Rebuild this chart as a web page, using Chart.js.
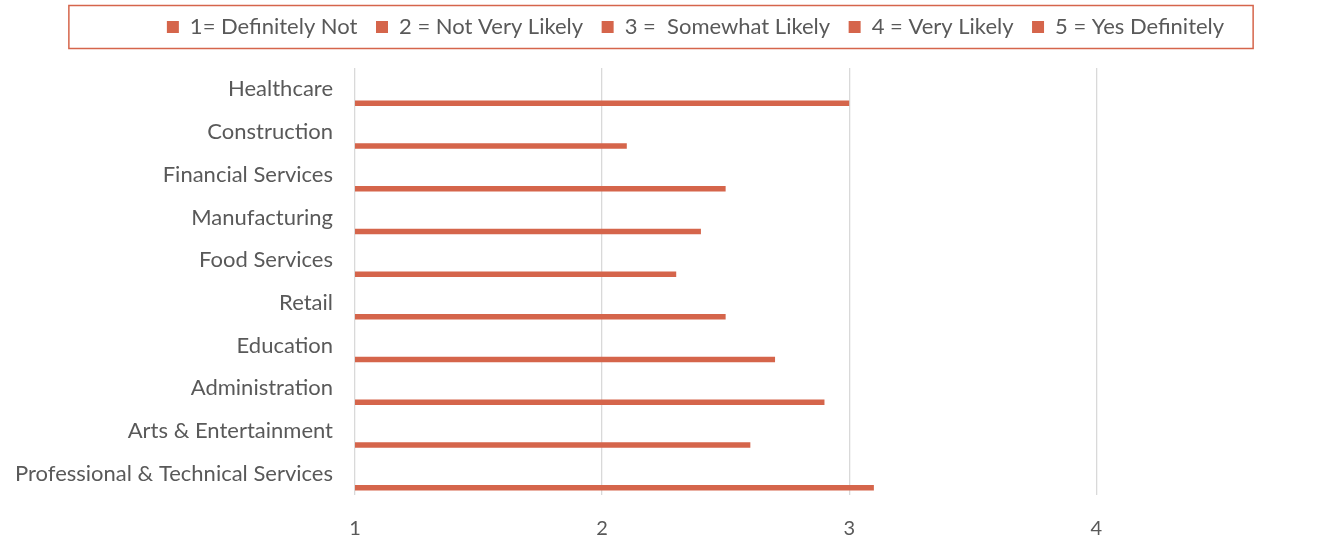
<!DOCTYPE html>
<html>
<head>
<meta charset="utf-8">
<script src="https://cdn.jsdelivr.net/npm/chart.js@4/dist/chart.umd.min.js"></script>
<style>
  html, body { margin: 0; padding: 0; background: #fff; }
  #wrap { width: 1335px; height: 537px; }
</style>
</head>
<body>
<div id="wrap"><canvas id="industry-chart"></canvas></div>
<script>
var industries = [
    'Healthcare',
    'Construction',
    'Financial Services',
    'Manufacturing',
    'Food Services',
    'Retail',
    'Education',
    'Administration',
    'Arts & Entertainment',
    'Professional & Technical Services'
];

var ratingLabels = [
    '1= Definitely Not',
    '2 = Not Very Likely',
    '3 =  Somewhat Likely',
    '4 = Very Likely',
    '5 = Yes Definitely'
];

// average likelihood per industry
var avgRating = [3.0, 2.1, 2.5, 2.4, 2.3, 2.5, 2.7, 2.9, 2.6, 3.1];

var xTicks = [1, 2, 3, 4];

var barColor = '#d5654b';
var textColor = '#595959';
var fontFamily = "Lato, 'Liberation Sans', sans-serif";

var datasets = ratingLabels.map(function (label, i) {
    return {
        label: label,
        data: i === ratingLabels.length - 1 ? avgRating : [],
        backgroundColor: barColor,
        borderWidth: 0,
        categoryPercentage: 0.82,
        barPercentage: 0.79
    };
});

// fixed legend band height, nudged right, with an outline round the entries
var legendFrame = {
    id: 'legendFrame',
    beforeLayout: function (chart) {
        var lg = chart.legend;
        if (lg && !lg._fixedFit) {
            var fit = lg.fit;
            lg.fit = function () {
                fit.call(this);
                this.height = 70.5;
            };
            lg._fixedFit = true;
        }
    },
    afterLayout: function (chart) {
        chart.legend.left += 60;
    },
    afterDraw: function (chart) {
        var boxes = chart.legend.legendHitBoxes;
        if (!boxes || !boxes.length) return;
        var first = boxes[0], last = boxes[boxes.length - 1];
        var cy = first.top + first.height / 2;
        var left = first.left - 98;
        var right = last.left + last.width + 29;
        var ctx = chart.ctx;
        ctx.save();
        ctx.strokeStyle = barColor;
        ctx.lineWidth = 1.5;
        ctx.strokeRect(left, cy - 21.5, right - left, 43);
        ctx.restore();
    }
};

var ctx = document.getElementById('industry-chart');

var industryChart = new Chart(ctx, {
    type: 'bar',
    data: {
        labels: industries,
        datasets: datasets
    },
    options: {
        indexAxis: 'y',
        responsive: true,
        maintainAspectRatio: false,
        animation: false,
        layout: { padding: { top: -2.5, right: 4, left: 0, bottom: 0 } },
        plugins: {
            tooltip: { enabled: false },
            legend: {
                position: 'top',
                labels: {
                    boxWidth: 12,
                    boxHeight: 12,
                    padding: 18.5,
                    color: textColor,
                    font: { family: fontFamily, size: 22 }
                }
            }
        },
        scales: {
            x: {
                min: 1,
                max: 4.95,
                afterBuildTicks: function (scale) {
                    scale.ticks = xTicks.map(function (v) { return { value: v }; });
                },
                border: { display: false },
                grid: { color: '#d9d9d9', lineWidth: 1.3, drawTicks: false },
                ticks: {
                    color: textColor,
                    padding: 22,
                    font: { family: fontFamily, size: 20 }
                },
                afterFit: function (scale) { scale.height = 42; }
            },
            y: {
                border: { display: false },
                grid: { display: false, tickLength: 0 },
                ticks: {
                    color: textColor,
                    padding: 22,
                    autoSkip: false,
                    font: { family: fontFamily, size: 22 }
                },
                afterFit: function (scale) { scale.width = 355; }
            }
        }
    },
    plugins: [legendFrame]
});
</script>
</body>
</html>
